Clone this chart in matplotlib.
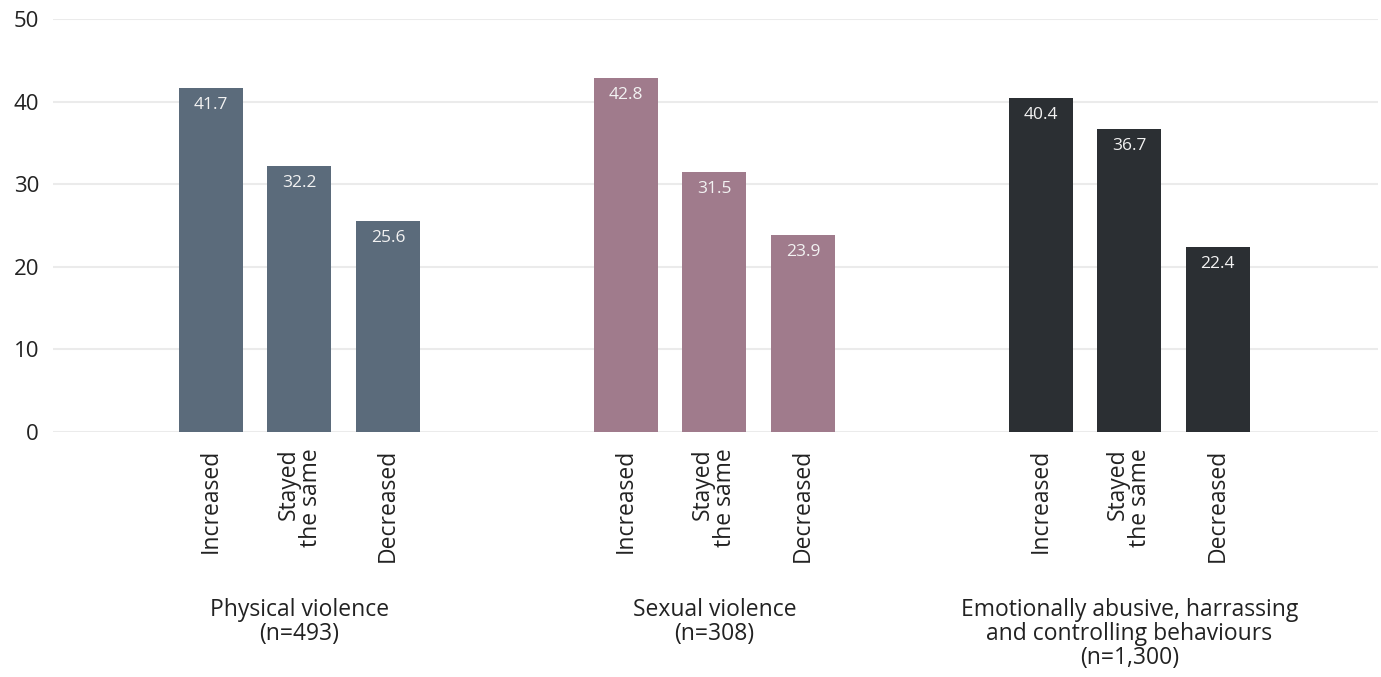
import matplotlib
matplotlib.use("Agg")
import matplotlib.pyplot as plt
import matplotlib.transforms as mtransforms

plt.rcParams['font.family'] = ['Open Sans', 'DejaVu Sans']

groups = ["Physical violence\n(n=493)", "Sexual violence\n(n=308)",
          "Emotionally abusive, harrassing\nand controlling behaviours\n(n=1,300)"]
categories = ["Increased", "Stayed\nthe same", "Decreased"]
physical = [41.7, 32.2, 25.6]
sexual = [42.8, 31.5, 23.9]
emotional = [40.4, 36.7, 22.4]
series = [physical, sexual, emotional]
colors = ["#5b6b7b", "#a07b8c", "#2b2f33"]
yticks = [0, 10, 20, 30, 40, 50]

fig = plt.figure(figsize=(13.81, 6.77), dpi=100)
ax = fig.add_axes([53/1381, (677-432)/677, (1378-53)/1381, (432-19)/677])

gap = 4.69
width = 0.723
xs_all, labels_all = [], []
for g, vals in enumerate(series):
    xs = [g*gap + i for i in range(len(vals))]
    ax.bar(xs, vals, width=width, color=colors[g], zorder=2)
    for x, v in zip(xs, vals):
        ax.annotate(f"{v:.1f}", (x, v), xytext=(0, -6.5), textcoords='offset points',
                    ha='center', va='top', color='#f2f2f2', fontsize=12.5)
    xs_all += xs
    labels_all += categories

trans = mtransforms.blended_transform_factory(ax.transData, ax.transAxes)
for g, name in enumerate(groups):
    ax.text(g*gap + 1, -0.402, name, transform=trans, ha='center', va='top',
            fontsize=16.5, color='#222222', linespacing=1.0)

ax.set_xticks(xs_all)
ax.set_xticklabels(labels_all, rotation=90, ha='center', va='top',
                   multialignment='right', fontsize=16.5, color='#222222', linespacing=0.9)
ax.set_xlim(-1.785, 13.19)
ax.set_ylim(0, 50)
ax.set_yticks(yticks)
ax.tick_params(axis='y', labelsize=16, colors='#222222', length=0, pad=10)
ax.tick_params(axis='x', length=0, pad=12)
ax.grid(axis='y', color='#ebebeb', linewidth=1.5, zorder=0)
for s in ax.spines.values():
    s.set_visible(False)

fig.savefig("out.png", dpi=100)
